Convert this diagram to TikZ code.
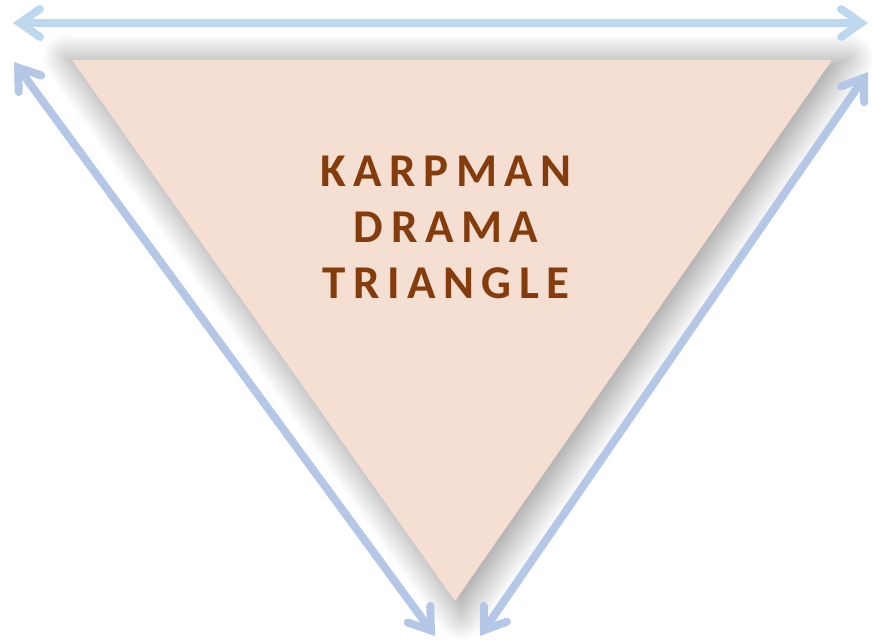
\documentclass[tikz,border=0pt]{standalone}
\usepackage{fontspec}
\setmainfont{Carlito}
\usetikzlibrary{arrows.meta,shadows.blur}
\definecolor{peach}{HTML}{F5DFD2}
\definecolor{rust}{HTML}{843C0C}
\definecolor{skyline}{HTML}{BDD7EE}
\definecolor{sideline}{HTML}{B4C7E7}

\begin{document}
\begin{tikzpicture}[x=1pt,y=-1pt,line width=8pt,
  loop/.style={{Straight Barb[length=20pt,width=28pt,line cap=round]}-{Straight Barb[length=20pt,width=28pt,line cap=round]},line cap=round}]
\useasboundingbox (0,0) rectangle (872,642);
\coordinate (TL) at (72,60); \coordinate (TR) at (832,60); \coordinate (B) at (455,601);
\fill[peach,blur shadow={shadow xshift=6pt,shadow yshift=-6pt,shadow scale=1.03,shadow blur radius=24pt,shadow blur steps=24,shadow opacity=38}] (TL)--(TR)--(B)--cycle;
\node[rust,font=\bfseries\fontsize{47}{56}\selectfont\addfontfeatures{LetterSpace=16},align=center] (title) at (446,227) {KARPMAN\\DRAMA\\TRIANGLE};
% arrows round the triangle
\coordinate (a1) at (13,23); \coordinate (a2) at (868,23);
\coordinate (l1) at (14,62); \coordinate (l2) at (435,636);
\coordinate (r1) at (868,72); \coordinate (r2) at (480,636);
\draw[loop,skyline] (a1)--(a2);
\draw[loop,sideline] (l1)--(l2);
\draw[loop,sideline] (r1)--(r2);
\end{tikzpicture}
\end{document}
